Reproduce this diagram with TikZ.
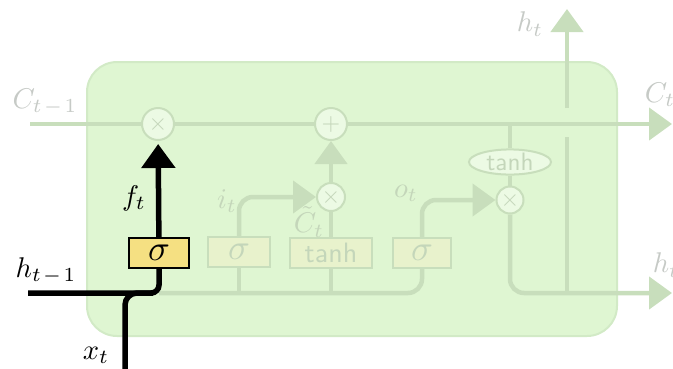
\documentclass[tikz,border=0pt]{standalone}
\usepackage{amsmath,amssymb}
\usepackage{graphicx}
\usepackage{tikz}
\usetikzlibrary{arrows.meta,shapes.geometric}

\definecolor{cellfill}{RGB}{223,246,210}
\definecolor{celledge}{RGB}{210,234,198}
\definecolor{fadeline}{RGB}{200,222,188}
\definecolor{fadetext}{RGB}{198,202,198}
\definecolor{fadeinner}{RGB}{196,214,186}
\definecolor{gateyellow}{RGB}{245,224,130}
\definecolor{fadegate}{RGB}{232,242,204}

\newcommand{\biglab}[1]{\scalebox{2.85}{#1}}
\newcommand{\gatesym}[1]{\scalebox{3.6}{#1}}
\newcommand{\tanhtxt}{\scalebox{2.8}{\sffamily tanh}}
\newcommand{\opsym}[1]{\scalebox{2.4}{#1}}

\tikzset{
  faded/.style={draw=fadeline,line width=4.5pt},
  fadehead/.style={-{Triangle[width=32pt,length=23pt]}},
  fadeop/.style={circle,draw=fadeline,line width=2pt,fill=cellfill!60!white,
    inner sep=0pt,text=fadeinner},
  fadebox/.style={rectangle,draw=fadeline,line width=2pt,fill=fadegate,
    minimum height=30pt,inner sep=0pt,text=fadeinner},
  livebox/.style={rectangle,draw=black,line width=2pt,fill=gateyellow,
    minimum height=30pt,minimum width=60pt,inner sep=0pt},
  live/.style={draw=black,line width=5.5pt},
  livehead/.style={-{Triangle[width=33pt,length=24pt]}},
}

\begin{document}
\begin{tikzpicture}[x=1pt,y=-1pt]
  \useasboundingbox (0,0) rectangle (673,368);

  % the cell
  \draw[draw=celledge,fill=cellfill,line width=2pt,rounded corners=30pt]
    (87,62) rectangle (617,336);

  % gates and pointwise operations
  \node[fadeop,minimum size=32pt] (mulf) at (158,124) {\opsym{$\times$}};
  \node[fadeop,minimum size=32pt] (add) at (331,124) {\opsym{$+$}};
  \node[fadeop,minimum size=28pt] (muli) at (331,197) {\opsym{$\times$}};
  \node[fadeop,minimum size=27pt] (mulo) at (510,200) {\opsym{$\times$}};
  \node[ellipse,draw=fadeline,line width=2pt,fill=cellfill!60!white,
    minimum width=82pt,minimum height=20pt,inner sep=0pt,text=fadeinner] (tanhc) at (510,162) {\scalebox{0.9}{\tanhtxt}};
  \node[livebox] (sigf) at (159,253) {\gatesym{$\sigma$}};
  \node[fadebox,minimum width=62pt] (sigi) at (239,252) {\gatesym{$\sigma$}};
  \node[fadebox,minimum width=82pt] (tanhg) at (331,253) {\tanhtxt};
  \node[fadebox,minimum width=58pt] (sigo) at (422,253) {\gatesym{$\sigma$}};

  \coordinate (cin) at (30,124);
  \coordinate (cout) at (672,124);
  \coordinate (csplit) at (510,124);
  \coordinate (hprev) at (28,293);
  \coordinate (hjoin) at (159,293);
  \coordinate (xin) at (125,370);
  \coordinate (hout) at (672,293);
  \coordinate (hsplit) at (567,293);
  \coordinate (hbelow) at (567,137);
  \coordinate (habove) at (567,108);
  \coordinate (hup) at (567,9);

  % cell state
  \draw[faded] (cin) -- (mulf);
  \draw[faded] (mulf) -- (add);
  \draw[faded,fadehead] (add) -- (cout);
  \draw[faded] (csplit) -- (tanhc);
  \draw[faded] (tanhc) -- (mulo);

  % hidden state and gates
  \draw[faded,rounded corners=14pt] (hjoin) -| (sigo.south);
  \draw[faded] (sigi.south |- hjoin) -- (sigi);
  \draw[faded] (tanhg.south |- hjoin) -- (tanhg);
  \draw[faded,fadehead,rounded corners=14pt] (sigi) |- (muli);
  \draw[faded] (tanhg) -- (muli);
  \draw[faded,fadehead] (muli) -- (add);
  \draw[faded,fadehead,rounded corners=14pt] (sigo) |- (mulo);
  \draw[faded,fadehead,rounded corners=14pt] (mulo) |- (hout);
  \draw[faded] (hsplit) -- (hbelow);
  \draw[faded,fadehead] (habove) -- (hup);

  % forget gate
  \draw[live,rounded corners=8pt] (hprev) -| (sigf);
  \draw[live,rounded corners=12pt] (xin) |- ([xshift=-6pt]hjoin);
  \draw[live,livehead,shorten >=3pt] (sigf) -- (mulf);

  % labels
  \node[text=fadetext] (lcin) at (45,102) {\biglab{$C_{t\mkern2mu-\mkern2mu1}$}};
  \node[text=fadetext] (lcout) at (660,95) {\biglab{$C_t$}};
  \node[text=fadetext] (lhtop) at (530,24) {\biglab{$h_t$}};
  \node[text=fadetext] (lhout) at (666,265) {\biglab{$h_t$}};
  \node[text=fadeinner] (li) at (227,201) {\biglab{$i_t$}};
  \node[text=fadeinner] (lctil) at (309,222) {\biglab{$\tilde{C}_t$}};
  \node[text=fadeinner] (lo) at (406,193) {\biglab{$o_t$}};
  \node (lf) at (134,198) {\biglab{$f_t$}};
  \node (lhprev) at (46,271) {\biglab{$h_{t\mkern2mu-\mkern2mu1}$}};
  \node (lx) at (96,355) {\biglab{$x_t$}};
\end{tikzpicture}
\end{document}
